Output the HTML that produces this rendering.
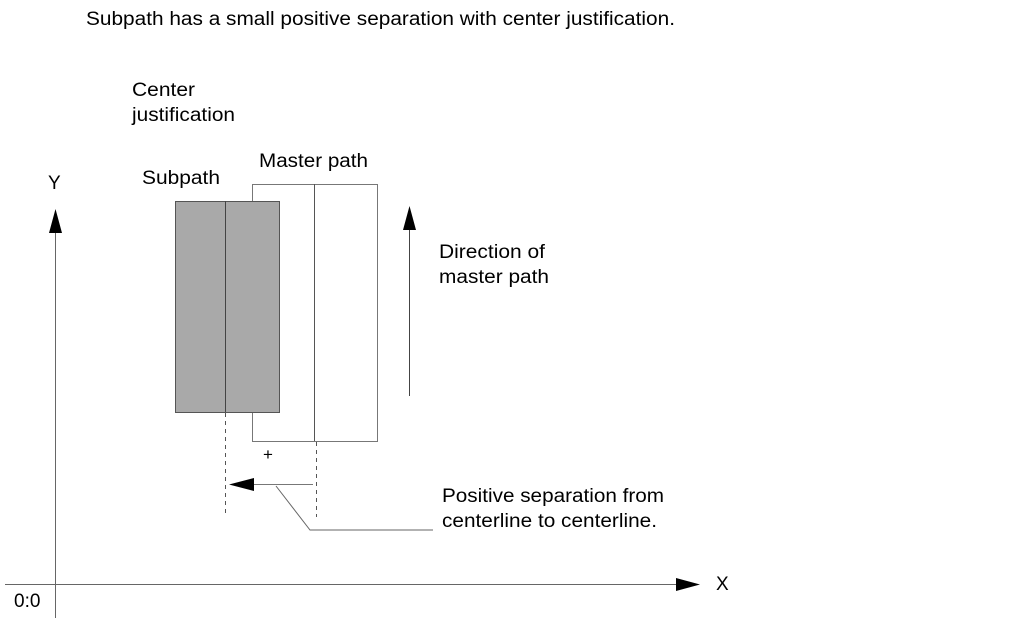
<!DOCTYPE html>
<html><head><meta charset="utf-8"><style>
body{margin:0;background:#fff;width:1013px;height:627px;overflow:hidden}
svg{display:block}
text{font-family:"Liberation Sans",sans-serif;font-size:19px;fill:#000}
</style></head><body>
<svg width="1013" height="627" viewBox="0 0 1013 627">
<text x="86" y="25" textLength="589" lengthAdjust="spacingAndGlyphs">Subpath has a small positive separation with center justification.</text>
<text x="132" y="96" textLength="63" lengthAdjust="spacingAndGlyphs">Center</text>
<text x="132" y="121" textLength="103" lengthAdjust="spacingAndGlyphs">justification</text>
<text x="142" y="184" textLength="78" lengthAdjust="spacingAndGlyphs">Subpath</text>
<text x="259" y="167" textLength="109" lengthAdjust="spacingAndGlyphs">Master path</text>
<text x="48" y="189">Y</text>
<text x="439" y="258" textLength="106" lengthAdjust="spacingAndGlyphs">Direction of</text>
<text x="439" y="283" textLength="110" lengthAdjust="spacingAndGlyphs">master path</text>
<text x="442" y="502" textLength="222" lengthAdjust="spacingAndGlyphs">Positive separation from</text>
<text x="442" y="527" textLength="215" lengthAdjust="spacingAndGlyphs">centerline to centerline.</text>
<text x="716" y="590">X</text>
<text x="14" y="607">0:0</text>
<text x="263" y="460" style="font-size:17px">+</text>
<rect x="252.5" y="184.5" width="125" height="257" fill="#fff" stroke="#777" stroke-width="1"/>
<line x1="314.5" y1="184" x2="314.5" y2="441" stroke="#555"/>
<rect x="175.5" y="201.5" width="104" height="211" fill="#a9a9a9" stroke="#555" stroke-width="1"/>
<line x1="225.5" y1="201" x2="225.5" y2="412" stroke="#444"/>
<line x1="225.5" y1="413" x2="225.5" y2="517" stroke="#555" stroke-dasharray="4,4"/>
<line x1="316.5" y1="442" x2="316.5" y2="517" stroke="#555" stroke-dasharray="4,4"/>
<line x1="253" y1="484.5" x2="313" y2="484.5" stroke="#777"/>
<polygon points="229,484.5 254,478 254,491" fill="#000"/>
<polyline points="276,486 310,530 433,530" fill="none" stroke="#666"/>
<line x1="409.5" y1="230" x2="409.5" y2="396" stroke="#444"/>
<polygon points="409.5,206 403,230 416,230" fill="#000"/>
<line x1="55.5" y1="232" x2="55.5" y2="618" stroke="#666"/>
<polygon points="55.5,209 49,233 62,233" fill="#000"/>
<line x1="5" y1="584.5" x2="678" y2="584.5" stroke="#666"/>
<polygon points="700,584.5 676,578 676,591" fill="#000"/>
</svg>
</body></html>
